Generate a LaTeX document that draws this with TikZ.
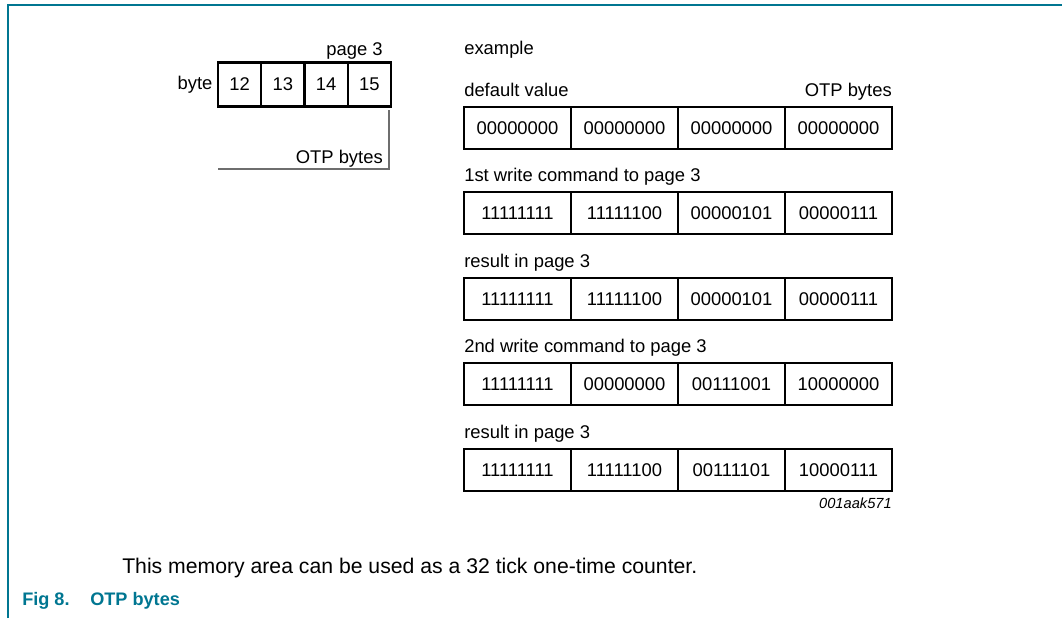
\documentclass[tikz,border=0pt]{standalone}
\usepackage{fontspec}
\setmainfont{Liberation Sans}
\usetikzlibrary{positioning}
\definecolor{nxpteal}{RGB}{0,118,145}
\definecolor{brkgray}{RGB}{110,110,110}
\begin{document}
\begin{tikzpicture}[x=0.75pt,y=0.75pt,yscale=-1,xscale=1,
  txt/.style={inner sep=0pt,font=\fontsize{13.8}{16}\selectfont},
  cell/.style={draw,line width=1.6pt,inner sep=0pt,outer sep=0pt,minimum width=80.25pt,minimum height=31.5pt,font=\fontsize{13.8}{16}\selectfont},
  bytecell/.style={cell,minimum width=32.45pt,minimum height=33pt}]
\useasboundingbox (0,0) rectangle (1062,618);
%Frame
\draw [color=nxpteal,line width=1.5pt] (8,618) -- (8,5) -- (1062,5) ;

%Shape: byte cells
\node [bytecell] (b12) at (239.6,84.5) {12};
\node [bytecell] (b13) at (282.9,84.5) {13};
\node [bytecell] (b14) at (326.1,84.5) {14};
\node [bytecell] (b15) at (369.4,84.5) {15};
% Text Node
\node [txt,anchor=east,left=4pt of b12] (byte) {byte};
% Text Node
\node [txt,anchor=base east] (pg) at (383,55) {page 3};
%Straight Lines
\coordinate (otpr) at (389,169);
\draw [color=brkgray,line width=0.8pt] (389,110) -- (otpr) -- (otpr -| b12.west) ;
% Text Node
\node [txt,anchor=base east] (otpl) at (383,163) {OTP bytes};

% Text Node
\node [txt,anchor=base west] (ex) at (464,54) {example};

%Shape: default value row
\node [cell] (r1a) at (517.5,128) {00000000};
\node [cell] (r1b) at (624.5,128) {00000000};
\node [cell] (r1c) at (731.5,128) {00000000};
\node [cell] (r1d) at (838.5,128) {00000000};
\node [txt,anchor=base west] (l1) at ([yshift=-8.25pt]r1a.north west) {default value};
\node [txt,anchor=base east] (otp) at ([yshift=-8.25pt]r1d.north east) {OTP bytes};

%Shape: 1st write row
\node [cell] (r2a) at (517.5,213) {11111111};
\node [cell] (r2b) at (624.5,213) {11111100};
\node [cell] (r2c) at (731.5,213) {00000101};
\node [cell] (r2d) at (838.5,213) {00000111};
\node [txt,anchor=base west] (l2) at ([yshift=-8.25pt]r2a.north west) {1st write command to page 3};

%Shape: 1st result row
\node [cell] (r3a) at (517.5,299) {11111111};
\node [cell] (r3b) at (624.5,299) {11111100};
\node [cell] (r3c) at (731.5,299) {00000101};
\node [cell] (r3d) at (838.5,299) {00000111};
\node [txt,anchor=base west] (l3) at ([yshift=-8.25pt]r3a.north west) {result in page 3};

%Shape: 2nd write row
\node [cell] (r4a) at (517.5,384) {11111111};
\node [cell] (r4b) at (624.5,384) {00000000};
\node [cell] (r4c) at (731.5,384) {00111001};
\node [cell] (r4d) at (838.5,384) {10000000};
\node [txt,anchor=base west] (l4) at ([yshift=-8.25pt]r4a.north west) {2nd write command to page 3};

%Shape: 2nd result row
\node [cell] (r5a) at (517.5,470) {11111111};
\node [cell] (r5b) at (624.5,470) {11111100};
\node [cell] (r5c) at (731.5,470) {00111101};
\node [cell] (r5d) at (838.5,470) {10000111};
\node [txt,anchor=base west] (l5) at ([yshift=-8.25pt]r5a.north west) {result in page 3};

% Text Node
\node [inner sep=0pt,anchor=base east,font=\fontsize{11}{13}\selectfont\itshape] (fid) at ([yshift=12.75pt]r5d.south east) {001aak571};

% Text Node
\node [inner sep=0pt,anchor=base west,font=\fontsize{15.9}{18}\selectfont] (note) at (122,573) {This memory area can be used as a 32 tick one-time counter.};
% Text Node
\node [txt,anchor=base west,color=nxpteal,font=\fontsize{13.6}{16}\selectfont\bfseries] (fig) at (22,605) {Fig 8.};
\node [txt,anchor=base west,color=nxpteal,font=\fontsize{13.6}{16}\selectfont\bfseries] (cap) at (90,605) {OTP bytes};
\end{tikzpicture}
\end{document}
